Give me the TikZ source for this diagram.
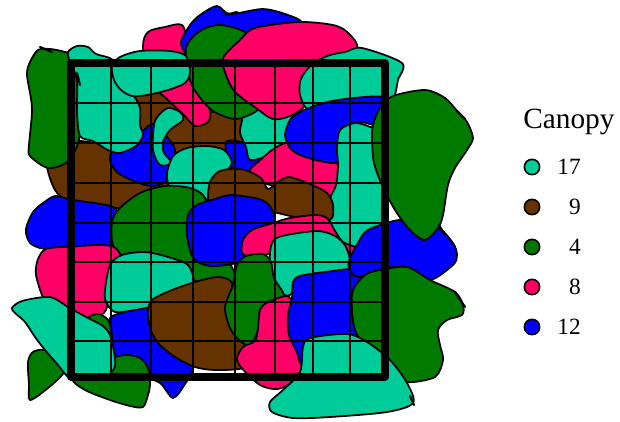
\documentclass[tikz,border=0pt]{standalone}
\usepackage{fontspec}
\setmainfont{Liberation Serif}
\definecolor{cteal}{RGB}{0,204,153}
\definecolor{cbrown}{RGB}{102,51,0}
\definecolor{cgreen}{RGB}{0,122,0}
\definecolor{cpink}{RGB}{255,0,102}
\definecolor{cblue}{RGB}{0,0,255}
\begin{document}
\begin{tikzpicture}[x=0.75pt,y=-0.75pt,
  blob/.style={draw=black, line width=1.3pt, line join=round},
  curl/.style={draw=black, line width=1.6pt, line cap=round},
  gridline/.style={draw=black, line width=2.2pt},
  legdot/.style={circle, draw=black, line width=1.2pt, minimum size=11.5pt, inner sep=0pt},
  legnum/.style={anchor=east, font=\fontsize{17.5}{20}\selectfont, inner sep=0pt}]
\useasboundingbox (0,0) rectangle (620,421);
\fill[white] (0,0) rectangle (620,421);
% 1 Br1
\draw[blob, fill=cbrown] plot[smooth cycle, tension=0.5] coordinates {(47,165) (56,150) (75,141) (110,140) (133,95) (160,92) (185,110) (215,112) (245,115) (255,145) (240,175) (210,190) (175,185) (145,192) (125,208) (100,205) (70,202) (55,190)};
% 2 Bsm
\draw[blob, fill=cblue] plot[smooth cycle, tension=0.5] coordinates {(226,142) (245,143) (257,155) (262,172) (245,175) (230,165)};
% 3 B_lm
\draw[blob, fill=cblue] plot[smooth cycle, tension=0.5] coordinates {(110,155) (130,143) (152,124) (165,135) (175,150) (170,178) (150,186) (118,173)};
% 4 G_L
\draw[blob, fill=cgreen] plot[smooth cycle, tension=0.5] coordinates {(30,62) (38,50) (50,49) (65,52) (78,58) (80,100) (79,140) (67,162) (48,168) (30,156) (29,145) (32,108) (27,75)};
% 5 P_L
\draw[blob, fill=cpink] plot[smooth cycle, tension=0.5] coordinates {(143,47) (148,32) (165,27) (182,25) (188,45) (193,70) (200,92) (210,110) (208,122) (195,126) (183,114) (168,100) (150,82)};
% 6 T_mid
\draw[blob, fill=cteal] plot[smooth cycle, tension=0.5] coordinates {(243,108) (260,104) (290,108) (305,115) (290,128) (288,140) (285,150) (268,156) (250,160) (246,147) (240,133) (242,120)};
% 7 B_top
\draw[blob, fill=cblue] plot[smooth cycle, tension=0.5] coordinates {(181,42) (190,25) (200,15) (217,6) (230,14) (263,9) (288,15) (302,23) (290,40) (250,45) (210,50) (188,55)};
% 8 G_top
\draw[blob, fill=cgreen] plot[smooth cycle, tension=0.5] coordinates {(186,48) (200,31) (220,25) (245,32) (262,50) (262,100) (255,112) (235,119) (213,111) (198,95) (190,80)};
% 9 P_top
\draw[blob, fill=cpink] plot[smooth cycle, tension=0.5] coordinates {(223,58) (240,40) (255,28) (300,22) (337,26) (353,38) (357,48) (345,56) (320,62) (305,80) (305,105) (290,116) (273,119) (256,108) (235,92) (226,75)};
% 10 T_TR
\draw[blob, fill=cteal] plot[smooth cycle, tension=0.5] coordinates {(305,72) (315,62) (330,55) (345,52) (362,48) (402,63) (398,80) (395,95) (390,110) (320,112) (306,108) (300,95) (300,82)};
% 11 T_A
\draw[blob, fill=cteal] plot[smooth cycle, tension=0.5] coordinates {(68,52) (77,46) (88,47) (96,54) (113,60) (122,80) (134,96) (140,108) (140,125) (143,135) (136,146) (120,153) (108,150) (93,141) (80,136) (77,110) (77,80) (70,62)};
% 12 T_B
\draw[blob, fill=cteal] plot[smooth cycle, tension=0.5] coordinates {(112,66) (120,57) (140,51) (170,51) (186,56) (190,72) (185,83) (168,90) (147,95) (132,96) (121,90) (114,80)};
% 13 T_s
\draw[blob, fill=cteal] plot[smooth cycle, tension=0.5] coordinates {(154,125) (158,116) (168,108) (180,112) (183,120) (170,130) (163,142) (164,153) (172,163) (160,165) (153,150)};
% 14 T_lm
\draw[blob, fill=cteal] plot[smooth cycle, tension=0.5] coordinates {(168,168) (174,155) (187,148) (207,146) (224,150) (232,163) (222,175) (210,185) (208,198) (197,207) (182,203) (171,192) (167,178)};
% 15 P_mid
\draw[blob, fill=cpink] plot[smooth cycle, tension=0.5] coordinates {(250,170) (258,162) (272,150) (287,143) (300,154) (320,161) (337,163) (339,180) (332,198) (300,190) (270,185) (255,178)};
% 16 B1
\draw[blob, fill=cblue] plot[smooth cycle, tension=0.5] coordinates {(290,120) (300,112) (320,104) (345,99) (383,97) (386,112) (378,125) (360,122) (348,127) (339,142) (338,162) (320,161) (300,155) (290,148) (285,135)};
% 17 T_R
\draw[blob, fill=cteal] plot[smooth cycle, tension=0.5] coordinates {(340,130) (355,123) (370,127) (380,135) (382,250) (348,248) (333,235) (327,215) (330,198) (336,185) (338,165) (337,148)};
% 18 Br2
\draw[blob, fill=cbrown] plot[smooth cycle, tension=0.5] coordinates {(208,197) (210,182) (218,172) (230,169) (245,170) (261,178) (268,189) (278,182) (289,177) (310,184) (327,193) (333,205) (330,220) (300,218) (260,208) (235,196) (212,203)};
% 19 B_L
\draw[blob, fill=cblue] plot[smooth cycle, tension=0.5] coordinates {(27,225) (33,212) (43,203) (55,196) (68,199) (80,201) (110,206) (118,215) (116,250) (80,258) (55,250) (40,248) (30,243) (26,233)};
% 20 G_L2
\draw[blob, fill=cgreen] plot[smooth cycle, tension=0.5] coordinates {(112,222) (120,208) (140,193) (165,186) (190,188) (205,198) (210,230) (225,255) (235,275) (228,286) (200,282) (160,270) (125,262) (113,245)};
% 21 P_LL
\draw[blob, fill=cpink] plot[smooth cycle, tension=0.5] coordinates {(37,262) (42,252) (50,248) (80,246) (100,245) (114,247) (121,257) (118,275) (110,292) (106,310) (95,318) (75,317) (50,308) (42,295) (36,275)};
% B_BL
\draw[blob, fill=cblue] plot[smooth cycle, tension=0.5] coordinates {(110,318) (125,312) (148,308) (170,310) (190,330) (194,365) (185,384) (173,398) (160,383) (140,375) (118,360) (111,335)};
% 22 T_BL
\draw[blob, fill=cteal] plot[smooth cycle, tension=0.5] coordinates {(105,290) (110,265) (122,255) (145,252) (168,257) (188,265) (194,282) (190,298) (160,305) (135,310) (115,312) (106,302)};
% 23 B2
\draw[blob, fill=cblue] plot[smooth cycle, tension=0.5] coordinates {(188,215) (197,205) (215,199) (232,195) (262,200) (273,212) (273,235) (255,255) (237,263) (210,266) (193,258) (187,235)};
% 24 P2
\draw[blob, fill=cpink] plot[smooth cycle, tension=0.5] coordinates {(242,253) (243,240) (252,230) (273,223) (290,218) (317,215) (328,219) (335,231) (343,242) (357,248) (352,254) (330,248) (315,240) (280,245) (268,254) (250,256)};
% 25 T_mid2
\draw[blob, fill=cteal] plot[smooth cycle, tension=0.5] coordinates {(272,243) (282,236) (317,231) (335,236) (346,247) (350,268) (330,273) (300,278) (290,295) (277,290) (270,262)};
% 27 Br3
\draw[blob, fill=cbrown] plot[smooth cycle, tension=0.5] coordinates {(148,312) (152,300) (172,290) (195,282) (218,277) (232,283) (228,307) (232,327) (246,347) (240,356) (243,368) (215,370) (195,367) (175,357) (158,343) (150,328)};
% 28 G3
\draw[blob, fill=cgreen] plot[smooth cycle, tension=0.5] coordinates {(233,285) (237,265) (246,256) (263,254) (271,262) (274,278) (284,296) (268,302) (260,310) (258,330) (250,345) (240,341) (230,328) (225,307)};
% 29 P3
\draw[blob, fill=cpink] plot[smooth cycle, tension=0.5] coordinates {(237,360) (243,347) (255,341) (258,328) (260,310) (268,302) (287,296) (292,305) (289,330) (298,350) (303,365) (293,381) (278,389) (262,386) (248,375)};
% 30 B3
\draw[blob, fill=cblue] plot[smooth cycle, tension=0.5] coordinates {(293,282) (300,276) (325,272) (356,270) (366,290) (368,325) (350,345) (305,365) (297,352) (289,335) (288,315) (292,298)};
% 31 B_R2
\draw[blob, fill=cblue] plot[smooth cycle, tension=0.5] coordinates {(350,258) (358,243) (368,230) (400,220) (412,232) (425,240) (438,228) (453,243) (457,255) (453,265) (430,280) (410,268) (385,268) (358,277) (349,268)};
% 32 G_R2
\draw[blob, fill=cgreen] plot[smooth cycle, tension=0.5] coordinates {(353,290) (365,275) (380,270) (407,267) (430,280) (455,292) (463,305) (462,315) (447,320) (438,330) (440,345) (443,360) (435,377) (407,382) (395,370) (385,355) (365,345) (355,330) (352,310)};
% 33 G_R1
\draw[blob, fill=cgreen] plot[smooth cycle, tension=0.5] coordinates {(373,125) (380,108) (393,96) (425,90) (445,98) (458,112) (467,122) (473,138) (467,150) (455,168) (448,185) (443,215) (438,228) (425,240) (410,230) (395,210) (382,185) (374,163) (372,140)};
% 34 T_BR
\draw[blob, fill=cteal] plot[smooth cycle, tension=0.5] coordinates {(270,402) (283,390) (300,372) (303,347) (310,338) (347,334) (367,342) (390,360) (407,383) (413,403) (387,412) (330,417) (293,418) (272,412)};
% 35 G_BL2
\draw[blob, fill=cgreen] plot[smooth cycle, tension=0.5] coordinates {(112,357) (127,355) (140,358) (148,368) (150,385) (148,395) (143,407) (130,406) (110,400) (87,391) (73,381) (70,365) (95,355)};
% 36 G_SL
\draw[blob, fill=cgreen] plot[smooth cycle, tension=0.5] coordinates {(28,362) (33,352) (45,350) (57,360) (64,372) (48,388) (30,400) (29,385)};
% 37 G_bit
\draw[blob, fill=cgreen] plot[smooth cycle, tension=0.5] coordinates {(88,319) (98,314) (108,320) (112,335) (110,345) (98,338)};
% 38 T_FL
\draw[blob, fill=cteal] plot[smooth cycle, tension=0.5] coordinates {(12,308) (22,301) (50,297) (68,307) (88,318) (103,326) (110,335) (114,352) (115,366) (108,375) (90,377) (70,378) (58,365) (45,350) (35,337) (25,322) (15,313)};
% curls
\draw[curl] (40,47) -- (52,52);
\draw[curl] (225,15) -- (237,12);
\draw[curl] (457,111) -- (465,119);
\draw[curl] (439,225) -- (445,235);
\draw[curl] (455,292) -- (465,307);
\draw[curl] (77,73) -- (80,85);
\draw[curl] (410,396) -- (414,405);
% grid
\foreach \gx in {111,151,193,235,275,313,350} \draw[gridline] (\gx,63) -- (\gx,377);
\foreach \gy in {103,143,183,223,262,302,341} \draw[gridline] (71,\gy) -- (385,\gy);
\draw[line width=5.5pt, line join=round] (71,63) rectangle (385,377);
% legend
\node[anchor=base west, font=\fontsize{22}{26}\selectfont, inner sep=0pt] (title) at (523,128) {Canopy};
\node[legdot, fill=cteal] (d1) at (532,167) {};
\node[legdot, fill=cbrown] (d2) at (532,207) {};
\node[legdot, fill=cgreen] (d3) at (532,247) {};
\node[legdot, fill=cpink] (d4) at (532,287) {};
\node[legdot, fill=cblue] (d5) at (532,327) {};
\node[legnum] (n1) at (581,167) {17};
\node[legnum] (n2) at (581,207) {9};
\node[legnum] (n3) at (581,247) {4};
\node[legnum] (n4) at (581,287) {8};
\node[legnum] (n5) at (581,327) {12};
\end{tikzpicture}
\end{document}
